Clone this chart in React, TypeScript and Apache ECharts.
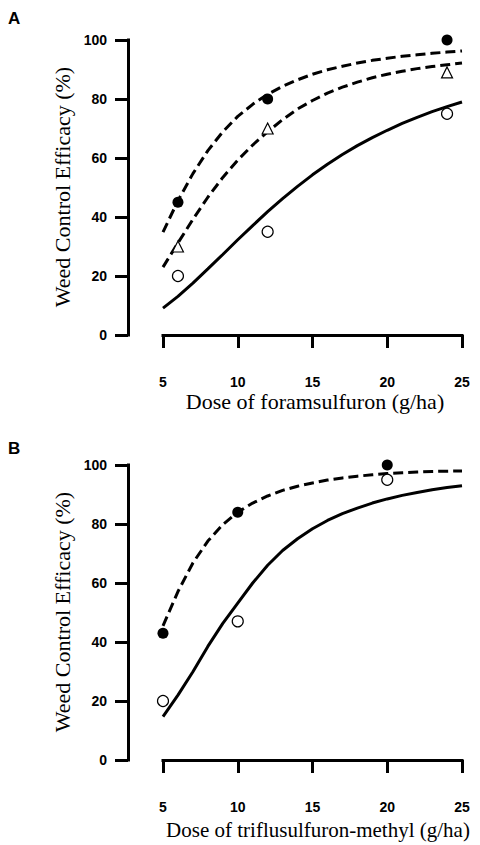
import React, { useEffect, useRef } from "react";
import * as echarts from "echarts";

// ---- Panel A: foramsulfuron ----
const doseA = [6, 12, 24];
const aFilled = [45, 80, 100];
const aTriangle = [30, 70, 89];
const aOpen = [20, 35, 75];

// ---- Panel B: triflusulfuron-methyl ----
const doseB = [5, 10, 20];
const bFilled = [43, 84, 100];
const bOpen = [20, 47, 95];

// ---- fitted curves ----
const curveDose = [5, 6, 7, 8, 9, 10, 11, 12, 13, 14, 15, 16, 17, 18, 19, 20, 21, 22, 23, 24, 25];
const aCurveFilled = [34.9, 45.5, 54.7, 62.5, 68.9, 74.1, 78.2, 81.6, 84.3, 86.5, 88.4, 89.9, 91.1, 92.2, 93.1, 93.8, 94.5, 95.0, 95.5, 95.9, 96.3];
const aCurveTriangle = [23.0, 31.2, 39.2, 46.7, 53.4, 59.3, 64.4, 68.9, 73.0, 76.6, 79.5, 82.0, 84.0, 85.7, 87.2, 88.4, 89.4, 90.3, 91.0, 91.6, 92.2];
const aCurveOpen = [9.1, 13.1, 17.6, 22.4, 27.3, 32.3, 37.1, 41.8, 46.2, 50.4, 54.3, 57.9, 61.2, 64.2, 66.9, 69.4, 71.7, 73.8, 75.7, 77.4, 79.0];
const bCurveFilled = [45.5, 57.1, 66.8, 74.2, 79.8, 84.0, 87.1, 89.5, 91.4, 92.8, 93.9, 94.9, 95.6, 96.2, 96.7, 97.1, 97.4, 97.6, 97.8, 97.9, 98.0];
const bCurveOpen = [14.7, 22.0, 29.9, 38.5, 46.3, 53.2, 60.0, 66.0, 71.0, 75.0, 78.4, 81.2, 83.5, 85.4, 87.1, 88.5, 89.7, 90.7, 91.6, 92.4, 93.0];

const xTicks = [5, 10, 15, 20, 25];
const yTicks = [0, 20, 40, 60, 80, 100];

const pairs = (xs: number[], ys: number[]) => xs.map((x, i) => [x, ys[i]]);

export default function App() {
  const ref = useRef<HTMLDivElement>(null);

  useEffect(() => {
    const chart = echarts.init(ref.current!, null, { renderer: "svg" });
    const tickFont = {
      fontFamily: "'Liberation Sans', Arial, sans-serif",
      fontWeight: "bold" as const,
      fontSize: 14,
      color: "#000",
    };
    const axisLine = { show: true, lineStyle: { color: "#000", width: 3, cap: "square" as const } };
    const axisTick = { show: true, length: 13, lineStyle: { color: "#000", width: 3 } };
    const makeX = (gi: number) => ({
      type: "value" as const,
      gridIndex: gi,
      min: xTicks[0],
      max: xTicks[xTicks.length - 1],
      interval: 5,
      offset: 16,
      axisLine,
      axisTick,
      axisLabel: { ...tickFont, margin: 24 },
      splitLine: { show: false },
    });
    const makeY = (gi: number) => ({
      type: "value" as const,
      gridIndex: gi,
      min: yTicks[0],
      max: yTicks[yTicks.length - 1],
      interval: 20,
      offset: 35,
      axisLine,
      axisTick,
      axisLabel: { ...tickFont, margin: 21 },
      splitLine: { show: false },
    });
    const curve = (gi: number, ys: number[], dashed: boolean) => ({
      type: "line" as const,
      xAxisIndex: gi,
      yAxisIndex: gi,
      data: pairs(curveDose, ys),
      showSymbol: false,
      smooth: false,
      clip: false,
      silent: true,
      lineStyle: { color: "#000", width: 3, opacity: 1, type: dashed ? [10, 5] : "solid", cap: "butt" as const },
      z: 2,
    });
    const points = (gi: number, xs: number[], ys: number[], kind: "filled" | "open" | "triangle") => ({
      type: "scatter" as const,
      xAxisIndex: gi,
      yAxisIndex: gi,
      data: pairs(xs, ys),
      clip: false,
      symbol: kind === "triangle" ? "triangle" : "circle",
      symbolSize: 11,
      itemStyle:
        kind === "filled"
          ? { color: "#000", opacity: 1 }
          : { color: "#fff", borderColor: "#000", borderWidth: 1.2, opacity: 1 },
      z: 3,
    });
    const serif = "'Liberation Serif', 'Times New Roman', serif";
    const sans = "'Liberation Sans', Arial, sans-serif";
    chart.setOption({
      animation: false,
      backgroundColor: "#fff",
      grid: [
        { left: 163, width: 299, top: 40, height: 295 },
        { left: 163, width: 299, top: 465, height: 295 },
      ],
      xAxis: [makeX(0), makeX(1)],
      yAxis: [makeY(0), makeY(1)],
      series: [
        curve(0, aCurveFilled, true),
        curve(0, aCurveTriangle, true),
        curve(0, aCurveOpen, false),
        points(0, doseA, aFilled, "filled"),
        points(0, doseA, aTriangle, "triangle"),
        points(0, doseA, aOpen, "open"),
        curve(1, bCurveFilled, true),
        curve(1, bCurveOpen, false),
        points(1, doseB, bFilled, "filled"),
        points(1, doseB, bOpen, "open"),
      ],
      graphic: [
        { type: "text", left: 8, top: 10, style: { text: "A", font: `bold 17px ${sans}`, fill: "#000" } },
        { type: "text", left: 8, top: 440, style: { text: "B", font: `bold 17px ${sans}`, fill: "#000" } },
        {
          type: "text", x: 62, y: 187, rotation: Math.PI / 2,
          style: { text: "Weed Control Efficacy (%)", font: `22px ${serif}`, fill: "#000", textAlign: "center", textVerticalAlign: "middle", align: "center", verticalAlign: "middle" },
        },
        {
          type: "text", x: 62, y: 612, rotation: Math.PI / 2,
          style: { text: "Weed Control Efficacy (%)", font: `22px ${serif}`, fill: "#000", textAlign: "center", textVerticalAlign: "middle", align: "center", verticalAlign: "middle" },
        },
        {
          type: "text", x: 315, y: 401,
          style: { text: "Dose of foramsulfuron (g/ha)", font: `22px ${serif}`, fill: "#000", textAlign: "center", textVerticalAlign: "middle", align: "center", verticalAlign: "middle" },
        },
        {
          type: "text", x: 318, y: 830,
          style: { text: "Dose of triflusulfuron-methyl (g/ha)", font: `21px ${serif}`, fill: "#000", textAlign: "center", textVerticalAlign: "middle", align: "center", verticalAlign: "middle" },
        },
      ],
    });
    return () => chart.dispose();
  }, []);

  return (
    <div
      ref={ref}
      style={{ position: "absolute", left: 0, top: 0, width: 480, height: 845, background: "#fff" }}
    />
  );
}
